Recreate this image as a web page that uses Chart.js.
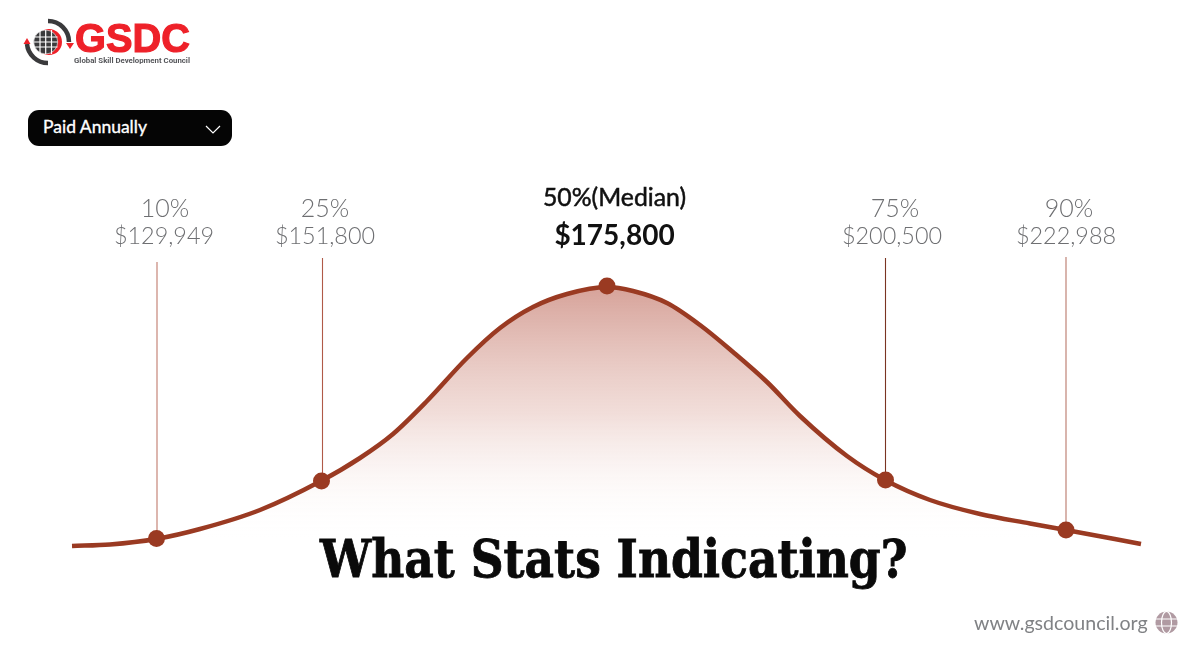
<!DOCTYPE html>
<html>
<head>
<meta charset="utf-8">
<script src="https://cdn.jsdelivr.net/npm/chart.js@4"></script>
<style>
  html, body { margin: 0; padding: 0; background: #fff; }
  #wrap { position: relative; width: 1200px; height: 652px; overflow: hidden; font-family: Lato, sans-serif; }
  #chart { position: absolute; left: 0; top: 0; }
  .abs { position: absolute; white-space: nowrap; }
  #gsdc { left: 75px; top: 15px; font: 700 41px/46px "Liberation Sans", sans-serif; color: #ee2129; -webkit-text-stroke: 1.2px #ee2129; transform-origin: left top; transform: scaleX(0.97); letter-spacing: 0; }
  #council { left: 74px; top: 56px; font: 700 7.8px/10px Roboto, sans-serif; color: #55565a; }
  #pill { left: 28px; top: 110px; width: 204px; height: 36px; border-radius: 11px; background: #050505; }
  #pill span { position: absolute; left: 15px; top: 7px; font: 400 17.5px/20px Lato, sans-serif; color: #fff; -webkit-text-stroke: 0.35px #fff; }
  #pill svg { position: absolute; left: 177px; top: 15px; }
  #title { left: 320px; top: 523px; font: 700 53px/70px "DejaVu Serif Condensed", "DejaVu Serif", serif; font-stretch: condensed; color: #0a0a0a; -webkit-text-stroke: 0.8px #0a0a0a; transform-origin: left top; transform: scaleX(0.955); }
  #site { left: 974px; top: 611px; font: 400 19.6px/24px Lato, sans-serif; color: #808285; }
  #web { left: 1155px; top: 611px; }
  #logo { left: 22px; top: 18px; }
</style>
</head>
<body>
<div id="wrap">
  <canvas id="chart" width="1200" height="652"></canvas>
  <svg id="logo" class="abs" width="56" height="50" viewBox="0 0 56 50">
    <path d="M26 3 A21 21 0 0 1 47 24" fill="none" stroke="#3a3a3c" stroke-width="4.5"/>
    <path d="M5 26 A21 21 0 0 0 26 45" fill="none" stroke="#3a3a3c" stroke-width="4.5"/>
    <path d="M1.5 26 L5 20 L8.5 26 Z" fill="#ee2129"/>
    <path d="M44 25 L48 31 L52 25 Z" fill="#ee2129"/>
    <circle cx="27" cy="24" r="13" fill="#ee2129"/>
    <circle cx="23.7" cy="24" r="12" fill="#3a3a3c" stroke="#fff" stroke-width="0.6"/>
    <path d="M12 19 H35.5 M12 24 H35.5 M12 29 H35.5 M18 12 V36 M23.7 12 V36 M29.5 12 V36" stroke="#fff" stroke-width="1.2"/>
  </svg>
  <div id="gsdc" class="abs">GSDC</div>
  <div id="council" class="abs">Global Skill Development Council</div>
  <div id="pill" class="abs"><span>Paid Annually</span>
    <svg width="16" height="9" viewBox="0 0 16 9"><path d="M1 1 L8 8 L15 1" fill="none" stroke="#fff" stroke-width="1.2"/></svg>
  </div>
  <div id="title" class="abs">What Stats Indicating?</div>
  <div id="site" class="abs">www.gsdcouncil.org</div>
  <svg id="web" class="abs" width="23" height="23" viewBox="0 0 23 23">
    <circle cx="11.5" cy="11.5" r="11" fill="#b09aa2"/>
    <path d="M0 8 H23 M0 15 H23" stroke="#fff" stroke-width="1.2"/>
    <ellipse cx="11.5" cy="11.5" rx="5" ry="11" fill="none" stroke="#fff" stroke-width="1.2"/>
  </svg>
</div>
<script>
// curve: x across the page, y = height above the page bottom
const curveX = [72, 110, 156, 200, 260, 321, 360, 393, 427, 467, 500, 533, 567, 607, 633, 667, 700, 733, 767, 800, 847, 885, 930, 980, 1030, 1066, 1141];
const curveY = [106, 107.5, 113, 123, 142, 171, 194, 218, 251, 294, 324, 345, 358, 365, 361, 349, 327, 300, 270, 236, 196, 172, 152, 138, 128.5, 122, 108];

// percentile markers
const pctLabels = ["10%", "25%", "50%(Median)", "75%", "90%"];
const pctValues = ["$129,949", "$151,800", "$175,800", "$200,500", "$222,988"];
const pctX = [156.5, 321.5, 607, 885.5, 1066];
const pctY = [113.5, 171, 366, 172, 122];
const stemX = [157, 322.5, 607, 885.5, 1066];
const stemTop = [390, 394, 366, 394, 395];
const stemColors = ["#c07a6c", "#b05a48", "#9a3a22", "#7a3422", "#b9776a"];
const pctCenters = [165, 325, 614.5, 895, 1069];
const valueCenters = [164, 325, 614.5, 892, 1066];

const lineColor = "#9a3a22";

const stems = stemX.map((x, i) => ({
  type: "line",
  data: [{ x: x, y: pctY[i] }, { x: x, y: stemTop[i] }],
  borderColor: stemColors[i],
  borderWidth: 1.1,
  pointRadius: 0,
  fill: false,
  order: 3
}));

const labelPlugin = {
  id: "pctLabels",
  afterDatasetsDraw(chart) {
    const ctx = chart.ctx;
    ctx.save();
    ctx.textAlign = "center";
    ctx.textBaseline = "alphabetic";
    pctLabels.forEach((label, i) => {
      if (i === 2) {
        ctx.fillStyle = "#111";
        ctx.strokeStyle = "#111";
        ctx.lineWidth = 0.5;
        ctx.font = "400 24.8px Lato";
        ctx.fillText(label, pctCenters[i], 206);
        ctx.strokeText(label, pctCenters[i], 206);
        ctx.font = "700 28px Lato";
        ctx.fillText(pctValues[i], valueCenters[i], 245);
      } else {
        ctx.fillStyle = "#6e6f72";
        ctx.font = "300 25px Lato";
        ctx.fillText(label, pctCenters[i], 217);
        ctx.font = "300 23.4px Lato";
        ctx.fillText(pctValues[i], valueCenters[i], 244);
      }
    });
    ctx.restore();
  }
};

new Chart(document.getElementById("chart"), {
  type: "line",
  data: {
    datasets: [
      {
        data: curveX.map((x, i) => ({ x: x, y: curveY[i] })),
        borderColor: lineColor,
        borderWidth: 4.5,
        pointRadius: 0,
        cubicInterpolationMode: "monotone",
        fill: "origin",
        backgroundColor(context) {
          const area = context.chart.chartArea;
          if (!area) return "transparent";
          const g = context.chart.ctx.createLinearGradient(0, 286, 0, 540);
          g.addColorStop(0, "rgba(200,130,118,0.75)");
          g.addColorStop(0.5, "rgba(222,175,165,0.42)");
          g.addColorStop(1, "rgba(255,255,255,0)");
          return g;
        },
        order: 2
      },
      ...stems,
      {
        data: pctX.map((x, i) => ({ x: x, y: pctY[i] })),
        showLine: false,
        pointRadius: 8.5,
        pointBackgroundColor: lineColor,
        pointBorderWidth: 0,
        order: 1
      }
    ]
  },
  options: {
    responsive: false,
    animation: false,
    layout: { padding: 0, autoPadding: false },
    plugins: { legend: { display: false }, tooltip: { enabled: false } },
    scales: {
      x: { type: "linear", min: 0, max: 1200, display: false },
      y: { type: "linear", min: 0, max: 652, display: false }
    }
  },
  plugins: [labelPlugin]
});
</script>
</body>
</html>
